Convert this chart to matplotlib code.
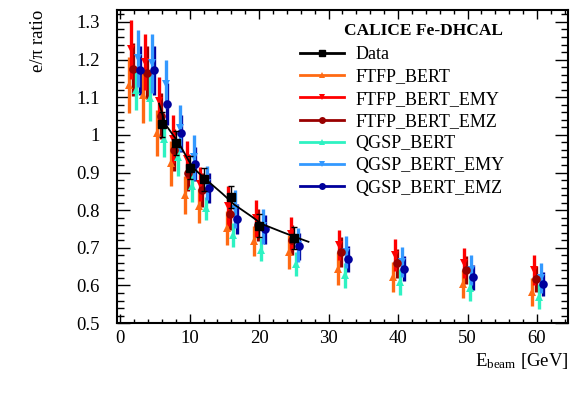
import matplotlib
matplotlib.use("Agg")
import matplotlib.pyplot as plt
from matplotlib.lines import Line2D
from matplotlib.ticker import MultipleLocator

plt.rcParams['font.family'] = ['Liberation Serif', 'DejaVu Serif']
plt.rcParams['mathtext.fontset'] = 'custom'
plt.rcParams['mathtext.rm'] = 'Liberation Serif'
plt.rcParams['mathtext.it'] = 'Liberation Serif:italic'

# data points
data_e = [6, 8, 10, 12, 16, 20, 25]
data_y = [1.028, 0.979, 0.913, 0.882, 0.835, 0.759, 0.725]
data_err = [0.033, 0.032, 0.03, 0.03, 0.03, 0.03, 0.029]

# fitted curve
fit_e = [5.6, 6.5, 8.4, 10.4, 12.3, 14.7, 16.4, 19.0, 20.3, 23.3, 25.3, 27.1]
fit_y = [1.083, 1.028, 0.979, 0.914, 0.882, 0.844, 0.815, 0.782, 0.764, 0.742, 0.728, 0.716]

# simulation
mc_e = [2, 4, 6, 8, 10, 12, 16, 20, 25, 32, 40, 50, 60]

ftfp_bert = [1.132, 1.105, 1.005, 0.925, 0.84, 0.81, 0.752, 0.718, 0.689, 0.645, 0.623, 0.604, 0.583]
ftfp_bert_err = [0.075, 0.073, 0.062, 0.06, 0.05, 0.045, 0.045, 0.04, 0.045, 0.045, 0.04, 0.038, 0.038]

ftfp_bert_emy = [1.227, 1.194, 1.09, 0.989, 0.935, 0.869, 0.811, 0.779, 0.738, 0.707, 0.681, 0.659, 0.641]
ftfp_bert_emy_err = [0.078, 0.075, 0.064, 0.064, 0.05, 0.045, 0.052, 0.049, 0.044, 0.04, 0.042, 0.04, 0.04]

ftfp_bert_emz = [1.174, 1.165, 1.05, 0.96, 0.9, 0.854, 0.791, 0.76, 0.72, 0.689, 0.659, 0.641, 0.617]
ftfp_bert_emz_err = [0.07, 0.07, 0.06, 0.055, 0.05, 0.045, 0.045, 0.042, 0.04, 0.04, 0.038, 0.036, 0.035]

qgsp_bert = [1.12, 1.099, 0.99, 0.94, 0.864, 0.805, 0.735, 0.695, 0.657, 0.627, 0.61, 0.592, 0.57]
qgsp_bert_err = [0.055, 0.062, 0.05, 0.05, 0.043, 0.03, 0.032, 0.03, 0.031, 0.033, 0.035, 0.033, 0.033]

qgsp_bert_emy = [1.203, 1.19, 1.135, 1.018, 0.94, 0.872, 0.803, 0.757, 0.707, 0.689, 0.663, 0.641, 0.619]
qgsp_bert_emy_err = [0.075, 0.078, 0.063, 0.062, 0.06, 0.044, 0.05, 0.047, 0.045, 0.042, 0.04, 0.04, 0.04]

qgsp_bert_emz = [1.172, 1.172, 1.082, 1.004, 0.922, 0.858, 0.776, 0.749, 0.704, 0.671, 0.645, 0.622, 0.603]
qgsp_bert_emz_err = [0.065, 0.065, 0.055, 0.05, 0.045, 0.04, 0.04, 0.038, 0.036, 0.035, 0.034, 0.033, 0.032]

# label, values, errors, colour, marker, x shift, draw order
series = [
    ("FTFP_BERT_EMZ", ftfp_bert_emz, ftfp_bert_emz_err, "#990000", "o", -0.2, 2),
    ("FTFP_BERT", ftfp_bert, ftfp_bert_err, "#ff6a13", "^", -0.7, 3),
    ("FTFP_BERT_EMY", ftfp_bert_emy, ftfp_bert_emy_err, "#ff0000", "v", -0.45, 4),
    ("QGSP_BERT_EMZ", qgsp_bert_emz, qgsp_bert_emz_err, "#00009c", "o", 0.8, 2),
    ("QGSP_BERT", qgsp_bert, qgsp_bert_err, "#2ef2c2", "^", 0.3, 3),
    ("QGSP_BERT_EMY", qgsp_bert_emy, qgsp_bert_emy_err, "#3399ff", "v", 0.55, 4),
]

fig = plt.figure(figsize=(5.81, 3.95), dpi=100)
ax = fig.add_axes([0.201, 0.182, 0.777, 0.793])

for label, vals, errs, col, mk, shift, z in series:
    xs = [e + shift for e in mc_e]
    ms = 6.2 if mk == "o" else 6.3
    zm = 8 if mk == "o" else 6
    ax.errorbar(xs, vals, yerr=errs, fmt="none", ecolor=col, elinewidth=2.4,
                capsize=0, zorder=z)
    ax.plot(xs, vals, ls="none", marker=mk, color=col, markersize=ms,
            markeredgewidth=0, zorder=zm)

ax.plot(fit_e, fit_y, color="black", lw=1.3, zorder=9)
ax.errorbar(data_e, data_y, yerr=data_err, fmt="s", color="black",
            markersize=6, elinewidth=1.0, capsize=2.2, capthick=1.0, zorder=10)

ax.set_xlim(-0.5, 64.5)
ax.set_ylim(0.5, 1.332)
ax.xaxis.set_major_locator(MultipleLocator(10))
ax.xaxis.set_minor_locator(MultipleLocator(2))
ax.yaxis.set_major_locator(MultipleLocator(0.1))
ax.yaxis.set_minor_locator(MultipleLocator(0.02))
ax.set_yticks([0.5, 0.6, 0.7, 0.8, 0.9, 1.0, 1.1, 1.2, 1.3])
ax.set_yticklabels(["0.5", "0.6", "0.7", "0.8", "0.9", "1", "1.1", "1.2", "1.3"])

ax.tick_params(axis="both", which="both", direction="in", top=True, right=True,
               labelsize=13.5, width=1.0)
ax.tick_params(axis="y", which="major", length=9.4, pad=12)
ax.tick_params(axis="y", which="minor", length=5)
ax.tick_params(axis="x", which="major", length=6.5, pad=5)
ax.tick_params(axis="x", which="minor", length=3.2)
for sp in ax.spines.values():
    sp.set_linewidth(1.5)

ax.set_xlabel(r"E$_{\mathrm{beam}}$ [GeV]", fontsize=13.5, loc="right", labelpad=3)
ax.set_ylabel("e/π ratio", fontsize=13.5, loc="top")
ax.yaxis.set_label_coords(-0.155, 1.0)

ax.text(0.68, 0.934, "CALICE Fe-DHCAL", transform=ax.transAxes, ha="center",
        va="center", fontsize=12.5, fontweight="bold")

handles = [Line2D([], [], color="black", lw=2, marker="s", markersize=5)]
labels = ["Data"]
legend_order = [1, 2, 0, 4, 5, 3]
for i in legend_order:
    label, vals, errs, col, mk, shift, z = series[i]
    handles.append(Line2D([], [], color=col, lw=2, marker=mk, markersize=5,
                          markeredgewidth=0))
    labels.append(label)

ax.legend(handles, labels, loc="upper left", bbox_to_anchor=(0.406, 0.884),
          frameon=False, fontsize=13, handlelength=2.45, handletextpad=0.6,
          labelspacing=0.29, borderpad=0, borderaxespad=0, numpoints=1)

fig.savefig("out.png", dpi=100)
